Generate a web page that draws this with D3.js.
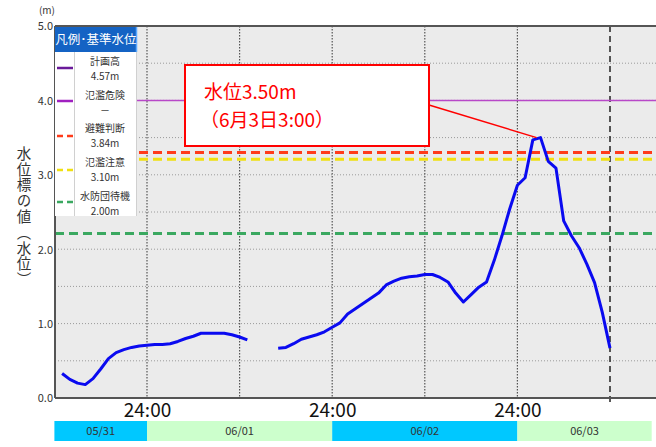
<!DOCTYPE html>
<html><head><meta charset="utf-8">
<script src="https://cdn.jsdelivr.net/npm/d3@7"></script>
<style>
html,body{margin:0;padding:0;background:#fff;}
svg{display:block;}
text{font-family:"Noto Sans CJK JP","Noto Sans",sans-serif;}
</style></head>
<body>
<svg id="chart" width="656" height="447"></svg>
<script>
// ---- data ----
// hours after 05/31 12:00 (hourly observations, 13:00 .. 06/03 12:00)
const levels = [0.33,0.25,0.20,0.18,0.26,0.39,0.53,0.61,0.65,0.68,0.70,0.71,0.72,0.72,0.73,0.76,0.80,0.83,0.87,0.87,0.87,0.87,0.85,0.82,0.78,
  null,null,null,
  0.67,0.68,0.73,0.79,0.82,0.85,0.89,0.95,1.01,1.13,1.20,1.27,1.34,1.41,1.52,1.57,1.61,1.63,1.64,1.66,1.66,1.62,1.56,1.41,1.29,
  1.39,1.49,1.56,1.85,2.18,2.54,2.86,2.96,3.47,3.50,3.18,3.09,2.38,2.18,2.02,1.80,1.55,1.15,0.67];
const firstHour = 1;
const yTicks = [0,1,2,3,4,5];
const dayTickHours = [12,36,60];
const dayTickLabels = ["24:00","24:00","24:00"];
const gridHours = [12,24,36,48,60];
const nowHour = 72;
const dates = ["05/31","06/01","06/02","06/03"];
const dateStart = [0,12,36,60];
const dateEnd = [12,36,60,77.4];
const refValues = [4.0,3.30,3.21,2.21];
const legendNames = ["計画高","氾濫危険","避難判断","氾濫注意","水防団待機"];
const legendValues = ["4.57m","－","3.84m","3.10m","2.00m"];
const legendTitle = "凡例･基準水位";
const yTitle = "水位標の値（水位）";
const annotLines = ["水位3.50m","（6月3日3:00）"];
const peakHour = 63, peakValue = 3.50;

// ---- styles ----
const refColors = ["#b848c8","#ff3b1a","#f0e010","#3aa860"];
const refDash = [null,"9,5","9,5","9,5"];
const legendColors = ["#6a1a9a","#a020c0","#ff3b1a","#f0e010","#3aa860"];
const legendDash = [null,null,"6,4","6,4","6,4"];
const dateColors = ["#00c8ff","#ccffcc","#00c8ff","#ccffcc"];

const svg = d3.select("#chart");
const L = 55, T = 26, B = 398, R = 656;
const x = d3.scaleLinear().domain([0,78]).range([54.4, 656.3]);
const y = d3.scaleLinear().domain([0,5]).range([B, T]);

// plot background
svg.append("rect").attr("x",L).attr("y",T).attr("width",R-L).attr("height",B-T).attr("fill","#ebebeb");

// horizontal grid every 0.5
const hGrid = d3.range(0.5,5,0.5);
svg.append("g").selectAll("line").data(hGrid).join("line")
  .attr("x1",L).attr("x2",R).attr("y1",d=>y(d)).attr("y2",d=>y(d))
  .attr("stroke","#9a9a9a").attr("stroke-width",1).attr("stroke-dasharray","1,2");
// vertical grid
svg.append("g").selectAll("line").data(gridHours).join("line")
  .attr("x1",d=>x(d)).attr("x2",d=>x(d)).attr("y1",T).attr("y2",B)
  .attr("stroke","#555").attr("stroke-width",1.2).attr("stroke-dasharray","1.5,1.5");
// current time
svg.append("line").attr("x1",x(nowHour)).attr("x2",x(nowHour)).attr("y1",T).attr("y2",B+6)
  .attr("stroke","#222").attr("stroke-width",1.5).attr("stroke-dasharray","6,4");

// reference lines
svg.append("g").selectAll("line").data(refValues).join("line")
  .attr("x1",L).attr("x2",R).attr("y1",d=>y(d)).attr("y2",d=>y(d))
  .attr("stroke",(d,i)=>refColors[i]).attr("stroke-width",(d,i)=>i===0?1.5:3)
  .attr("stroke-dasharray",(d,i)=>refDash[i]);

// water level line
const line = d3.line().defined(d=>d[1]!==null).x(d=>x(d[0])).y(d=>y(d[1]));
svg.append("path").datum(levels.map((v,i)=>[firstHour+i,v]))
  .attr("d",line).attr("fill","none").attr("stroke","#0a0af0").attr("stroke-width",3).attr("stroke-linejoin","round");

// axes frame
svg.append("line").attr("x1",L).attr("x2",R).attr("y1",T).attr("y2",T).attr("stroke","#555").attr("stroke-width",2);
svg.append("line").attr("x1",L).attr("x2",L).attr("y1",T).attr("y2",B).attr("stroke","#555").attr("stroke-width",2);
svg.append("line").attr("x1",L).attr("x2",R).attr("y1",B).attr("y2",B).attr("stroke","#555").attr("stroke-width",2);

// y axis labels
const ya = svg.append("g").attr("transform",`translate(${L-2},0)`)
  .call(d3.axisLeft(y).tickValues(yTicks).tickFormat(d3.format(".1f")).tickSize(0).tickPadding(0));
ya.select(".domain").remove();
ya.selectAll("text").attr("font-family","'DejaVu Sans Mono',monospace").attr("font-size",11).attr("fill","#333").attr("dy","0.35em");
svg.append("text").attr("x",47).attr("y",14).attr("text-anchor","middle").attr("font-size",10).attr("fill","#333").text("(m)");

// y title (vertical writing)
svg.append("text").attr("x",24).attr("y",146)
  .style("writing-mode","vertical-rl").style("text-orientation","upright")
  .attr("letter-spacing",1.3)
  .attr("font-size",14.5).attr("fill","#333").text(yTitle);

// x axis labels
const xa = svg.append("g").attr("transform",`translate(0,${B})`)
  .call(d3.axisBottom(x).tickValues(dayTickHours).tickFormat((d,i)=>dayTickLabels[i]).tickSize(0).tickPadding(0));
xa.select(".domain").remove();
xa.selectAll("text").attr("font-family","'Liberation Sans',Arial,sans-serif").attr("font-size",19).attr("fill","#111").attr("dy","1.02em");

// date bars
const db = svg.append("g");
db.selectAll("rect").data(dates).join("rect")
  .attr("x",(d,i)=>x(dateStart[i])).attr("width",(d,i)=>x(dateEnd[i])-x(dateStart[i]))
  .attr("y",421).attr("height",20).attr("fill",(d,i)=>dateColors[i]);
db.selectAll("text").data(dates).join("text")
  .attr("x",(d,i)=>(x(dateStart[i])+x(dateEnd[i]))/2).attr("y",431).attr("dy","0.35em")
  .attr("text-anchor","middle").attr("font-size",11).attr("fill","#333").text(d=>d);

// legend
const lg = svg.append("g");
lg.append("rect").attr("x",L).attr("y",27).attr("width",82).attr("height",189).attr("fill","#fff");
lg.append("line").attr("x1",136.5).attr("x2",136.5).attr("y1",52).attr("y2",216).attr("stroke","#d0d0d0");
lg.append("line").attr("x1",74.5).attr("x2",74.5).attr("y1",52).attr("y2",216).attr("stroke","#d0d0d0");
lg.append("rect").attr("x",L).attr("y",27).attr("width",82).attr("height",25).attr("fill","#1463c4");
lg.append("line").attr("x1",136.5).attr("x2",136.5).attr("y1",27).attr("y2",52).attr("stroke","#5aa8ff").attr("stroke-width",1.5);
lg.append("text").attr("x",96).attr("y",40).attr("dy","0.35em").attr("text-anchor","middle")
  .attr("font-size",12.5).attr("fill","#fff").text(legendTitle);
const swY = [68,101,136,170,202];
lg.selectAll(".sw").data(legendNames).join("line").attr("class","sw")
  .attr("x1",57).attr("x2",73).attr("y1",(d,i)=>swY[i]).attr("y2",(d,i)=>swY[i])
  .attr("stroke",(d,i)=>legendColors[i]).attr("stroke-width",2.5).attr("stroke-dasharray",(d,i)=>legendDash[i]);
const nmY = [61,95.5,128,162,196];
const vY = [76,110.5,143.5,177,211];
lg.selectAll(".nm").data(legendNames).join("text").attr("class","nm")
  .attr("x",105).attr("y",(d,i)=>nmY[i]).attr("dy","0.35em").attr("text-anchor","middle")
  .attr("font-size",10).attr("fill","#333").text(d=>d);
lg.selectAll(".vl").data(legendValues).join("text").attr("class","vl")
  .attr("x",105).attr("y",(d,i)=>vY[i]).attr("dy","0.35em").attr("text-anchor","middle")
  .attr("font-size",10).attr("fill","#333").text(d=>d);

// annotation
const an = svg.append("g");
an.append("line").attr("x1",429).attr("y1",105).attr("x2",x(peakHour)-4).attr("y2",y(peakValue))
  .attr("stroke","#ff0000").attr("stroke-width",1.5);
an.append("rect").attr("x",185).attr("y",65).attr("width",244).attr("height",81)
  .attr("fill","#fff").attr("stroke","#ff0000").attr("stroke-width",2);
an.selectAll("text").data(annotLines).join("text")
  .attr("x",(d,i)=>i===0?204:200).attr("y",(d,i)=>i===0?92:120).attr("dy","0.35em")
  .attr("font-size",19).attr("fill","#ff0000").text(d=>d);
</script>
</body></html>
